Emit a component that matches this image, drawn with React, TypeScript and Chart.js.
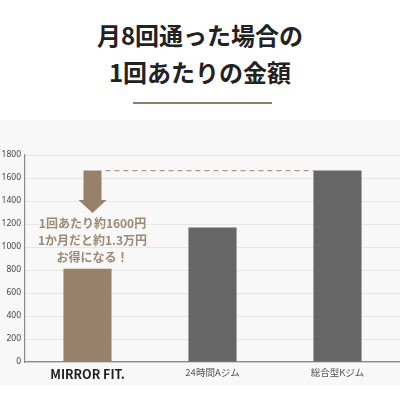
import React, { useRef, useEffect } from 'react';
import Chart from 'chart.js/auto';

const categories = ['MIRROR FIT.', '24時間Aジム', '総合型Kジム'];
const values = [810, 1170, 1665];
const barColors = ['#97816b', '#666666', '#666666'];
const yTicks = [0, 200, 400, 600, 800, 1000, 1200, 1400, 1600, 1800];

// callout next to the first bar
const calloutLines = ['1回あたり約1600円', '1か月だと約1.3万円', 'お得になる！'];
const calloutLineValues = [1208, 1060, 912];
const arrowValues = [1665, 1408, 1295]; // top of shaft, start of head, tip
const refValue = 1665;

const JP = '"Noto Sans CJK JP", "Noto Sans", sans-serif';

const calloutPlugin = {
  id: 'callout',
  afterDatasetsDraw(chart: any) {
    const { ctx } = chart;
    const y = chart.scales.y;
    const bars = chart.getDatasetMeta(0).data;
    const cx = bars[0].x + 5;
    ctx.save();

    // arrow
    const top = y.getPixelForValue(arrowValues[0]);
    const neck = y.getPixelForValue(arrowValues[1]);
    const tip = y.getPixelForValue(arrowValues[2]);
    ctx.fillStyle = '#97816b';
    ctx.beginPath();
    ctx.moveTo(cx - 9, top);
    ctx.lineTo(cx + 9, top);
    ctx.lineTo(cx + 9, neck);
    ctx.lineTo(cx + 14, neck);
    ctx.lineTo(cx, tip);
    ctx.lineTo(cx - 14, neck);
    ctx.lineTo(cx - 9, neck);
    ctx.closePath();
    ctx.fill();

    // dashed reference line
    const ry = y.getPixelForValue(refValue);
    const last = bars[bars.length - 1];
    ctx.strokeStyle = '#a8998a';
    ctx.lineWidth = 1.2;
    ctx.setLineDash([5, 4]);
    ctx.beginPath();
    ctx.moveTo(cx + 13, ry);
    ctx.lineTo(last.x - last.width / 2, ry);
    ctx.stroke();
    ctx.setLineDash([]);

    // text
    ctx.fillStyle = '#9d8a75';
    ctx.font = `bold 12px ${JP}`;
    ctx.textAlign = 'center';
    ctx.textBaseline = 'middle';
    calloutLines.forEach((t, i) => {
      ctx.fillText(t, cx, y.getPixelForValue(calloutLineValues[i]));
    });
    ctx.restore();
  },
};

const BarChart: React.FC = () => {
  const chartRef = useRef<HTMLCanvasElement | null>(null);

  useEffect(() => {
    if (!chartRef.current) return;
    const ctx = chartRef.current.getContext('2d');
    if (!ctx) return;

    const chart = new Chart(ctx, {
      type: 'bar',
      data: {
        labels: categories,
        datasets: [
          {
            data: values,
            backgroundColor: barColors,
            categoryPercentage: 1,
            barPercentage: 0.385,
          },
        ],
      },
      options: {
        animation: false,
        responsive: false,
        maintainAspectRatio: false,
        layout: { padding: { top: 35, right: 0, left: 0, bottom: 0 } },
        plugins: {
          legend: { display: false },
          tooltip: { enabled: false },
        },
        scales: {
          x: {
            grid: { display: false, drawTicks: false },
            border: { color: '#8a8a8a', width: 1.2 },
            ticks: {
              padding: 5,
              color: (c: any) => (c.index === 0 ? '#1e1e1e' : '#555555'),
              font: (c: any) =>
                c.index === 0
                  ? { family: JP, size: 12.5, weight: 'bold' }
                  : { family: JP, size: 9.5, weight: 'normal' },
            },
            afterFit(scale: any) {
              scale.height = 38;
            },
          },
          y: {
            min: 0,
            max: 1800,
            afterBuildTicks(scale: any) {
              scale.ticks = yTicks.map((v) => ({ value: v }));
            },
            grid: { color: '#e6e6e6', drawTicks: false },
            border: { color: '#8a8a8a', width: 1.2 },
            ticks: {
              padding: 4,
              color: '#444444',
              font: { family: '"Noto Sans", sans-serif', size: 8.5 },
              callback: (v: any) => String(v),
            },
            afterFit(scale: any) {
              scale.width = 25;
            },
          },
        },
      },
      plugins: [calloutPlugin],
    });

    return () => {
      chart.destroy();
    };
  }, []);

  return <canvas ref={chartRef} width={400} height={280} style={{ width: 400, height: 280, display: 'block' }} />;
};

const App: React.FC = () => {
  useEffect(() => {
    document.body.style.margin = '0';
  }, []);

  return (
    <div style={{ position: 'absolute', left: 0, top: 0, width: 400, height: 400, background: '#ffffff', overflow: 'hidden' }}>
      <div
        style={{
          position: 'absolute',
          top: 16,
          left: 0,
          width: 400,
          textAlign: 'center',
          fontFamily: JP,
          fontWeight: 'bold',
          fontSize: 24,
          lineHeight: '37px',
          color: '#222222',
        }}
      >
        月8回通った場合の
        <br />
        1回あたりの金額
      </div>
      <div style={{ position: 'absolute', top: 102, left: 133, width: 139, height: 2, background: '#8f7f6e' }} />
      <div style={{ position: 'absolute', top: 120, left: 0, width: 400, height: 265, background: '#f8f8f8' }} />
      <div style={{ position: 'absolute', top: 120, left: 0 }}>
        <BarChart />
      </div>
    </div>
  );
};

export default App;
